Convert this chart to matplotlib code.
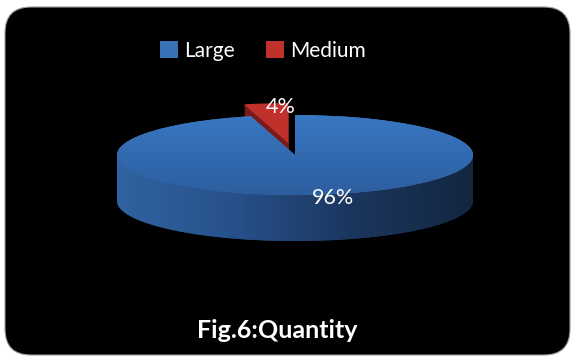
import numpy as np
import matplotlib
matplotlib.use("Agg")
import matplotlib.pyplot as plt
from matplotlib.patches import FancyBboxPatch, PathPatch
from matplotlib.path import Path
from matplotlib.colors import LinearSegmentedColormap

categories = ["Large", "Medium"]
values = [96, 4]
title = "Fig.6:Quantity"

W, H = 574, 358
fig = plt.figure(figsize=(W / 100, H / 100), dpi=100)
fig.patch.set_facecolor("white")

# background rounded panel (pixel coordinates)
bg = fig.add_axes([0, 0, 1, 1])
bg.set_xlim(0, W)
bg.set_ylim(H, 0)
bg.axis("off")
r = 26
bg.add_patch(FancyBboxPatch((5 + r, 7 + r), 565 - 2 * r, 348 - 2 * r,
                            boxstyle=f"round,pad={r}", facecolor="black",
                            edgecolor="#9a9a9a", linewidth=0.8))

# pie axes: 1 unit = rx px horizontally, ry px vertically
cx, cy, rx, ry = 295, 155, 178, 40
ax = fig.add_axes([0, 0, 1, 1])

depth = 1.15
explode = [0, 0.3]
face_cols = ["#3A72B8", "#C0312C"]
side_cols = ["#23467A", "#7A1C19"]

n_layers = 40
for k in np.linspace(depth, 0.02, n_layers):
    ax.pie(values, startangle=90, counterclock=False, explode=explode,
           colors=side_cols, center=(0, -k), radius=1, normalize=True,
           wedgeprops=dict(linewidth=0))

# gradient on front side of large slice
t = np.linspace(np.pi, 2 * np.pi, 200)
verts = np.concatenate([np.column_stack([np.cos(t), np.sin(t) - depth]),
                        np.column_stack([np.cos(t[::-1]), np.sin(t[::-1])])])
side_path = Path(verts, closed=False)
side_patch = PathPatch(side_path, facecolor="none", edgecolor="none")
ax.add_patch(side_patch)
cmap_side = LinearSegmentedColormap.from_list("s", ["#3063A1", "#27508A", "#1B365D", "#132641"])
grad = np.linspace(0, 1, 256).reshape(1, -1)
im = ax.imshow(grad, cmap=cmap_side, extent=(-1, 1, -1 - depth, 0),
               aspect="auto", origin="lower", zorder=2)
im.set_clip_path(side_patch)

# top face
wedges, _ = ax.pie(values, startangle=90, counterclock=False, explode=explode,
                   colors=face_cols, radius=1, normalize=True,
                   wedgeprops=dict(linewidth=0, zorder=3))
cmap_top = LinearSegmentedColormap.from_list("t", ["#2D5E9F", "#3877C2"])
gv = np.linspace(0, 1, 256).reshape(-1, 1)
im2 = ax.imshow(gv, cmap=cmap_top, extent=(-1, 1, -1, 1), aspect="auto",
                origin="lower", zorder=3.5)
im2.set_clip_path(wedges[0])

ax.set_aspect("auto")
ax.set_xlim(-cx / rx, (W - cx) / rx)
ax.set_ylim(-(H - cy) / ry, cy / ry)
ax.axis("off")

# percentage labels
fr = np.array(values) / np.sum(values)
ends = 90 - 360 * np.cumsum(fr)
starts = np.concatenate([[90], ends[:-1]])
mids = np.deg2rad((starts + ends) / 2)
dists = [1.08, 0.9]
nudges = [0.08, 0.07]
for i, v in enumerate(values):
    ox = (explode[i] + dists[i]) * np.cos(mids[i]) + nudges[i]
    oy = (explode[i] + dists[i]) * np.sin(mids[i])
    ax.text(ox, oy, f"{v}%", color="white", fontsize=15.5, family="Lato",
            ha="center", va="center", zorder=5)

leg = fig.legend(wedges, categories, loc="upper center", ncol=2,
                 bbox_to_anchor=(263 / W, 1 - 22 / H), frameon=False,
                 prop=dict(family="Lato", size=15), handlelength=0.85,
                 handleheight=0.85, handletextpad=0.3, columnspacing=1.5)
for txt in leg.get_texts():
    txt.set_color("white")
for h, c in zip(leg.legend_handles, face_cols):
    h.set_facecolor(c)

fig.text(277 / W, 1 - 331 / H, title, color="white", fontsize=18,
         fontweight="bold", family="Lato", ha="center", va="center")

fig.savefig("out.png", dpi=100, facecolor="white")
